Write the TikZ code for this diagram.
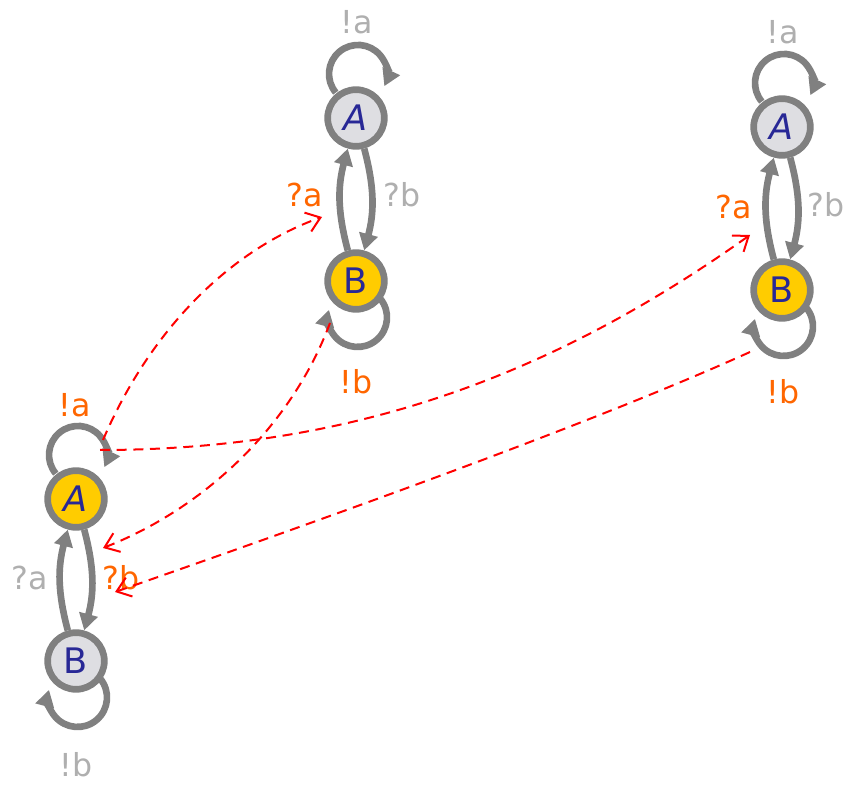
\documentclass[tikz,border=0pt]{standalone}
\usepackage{fontspec}
\setmainfont{DejaVu Sans}
\usetikzlibrary{arrows.meta,calc}

\definecolor{stategray}{RGB}{222,222,226}
\definecolor{stateyellow}{RGB}{255,204,0}
\definecolor{letterblue}{RGB}{40,40,150}
\definecolor{edgegray}{RGB}{128,128,128}
\definecolor{labelgray}{RGB}{175,175,175}
\definecolor{labelorange}{RGB}{255,102,0}

\begin{document}
\begin{tikzpicture}[x=0.3mm, y=-0.3mm,
  state/.style={circle, draw=edgegray, line width=2mm, minimum size=17mm,
    inner sep=0pt, text=letterblue, font=\fontsize{30}{32}\selectfont},
  idle/.style={state, fill=stategray},
  active/.style={state, fill=stateyellow},
  trans/.style={draw=edgegray, line width=2mm, -{Triangle[length=5mm,width=5.5mm]}},
  lbl/.style={text=labelgray, font=\fontsize{27}{29}\selectfont},
  hot/.style={text=labelorange, font=\fontsize{27}{29}\selectfont},
  sync/.style={red, line width=0.6mm, dash pattern=on 3mm off 2mm,
    -{Straight Barb[length=4mm,width=6mm]}}]

  \useasboundingbox (0,0) rectangle (846,785);

  % Middle machine
  \node[idle] (mA) at (356,118) {\itshape A};
  \node[active] (mB) at (356,281) {B};
  \draw[trans] ($(mA)+(-20.2,-25.4)$) arc[start angle=-220, end angle=25, radius=29];
  \draw[trans] (mB) to[bend left=15] (mA);
  \draw[trans] (mA) to[bend left=15] (mB);
  \draw[trans] ($(mB)+(24.1,17.5)$) arc[start angle=-40, end angle=195, radius=29.5];
  \node[lbl] (mla) at (357,22) {!a};
  \node[hot] (mqa) at (305,195) {?a};
  \node[lbl] (mqb) at (402,195) {?b};
  \node[hot] (mlb) at (356,382) {!b};

  % Right machine
  \node[idle] (rA) at (782,127) {\itshape A};
  \node[active] (rB) at (782,290) {B};
  \draw[trans] ($(rA)+(-20.2,-25.4)$) arc[start angle=-220, end angle=25, radius=29];
  \draw[trans] (rB) to[bend left=15] (rA);
  \draw[trans] (rA) to[bend left=15] (rB);
  \draw[trans] ($(rB)+(24.1,17.5)$) arc[start angle=-40, end angle=195, radius=29.5];
  \node[lbl] (rla) at (783,32) {!a};
  \node[hot] (rqa) at (734,207) {?a};
  \node[lbl] (rqb) at (826,205) {?b};
  \node[hot] (rlb) at (783,392) {!b};

  % Left machine
  \node[active] (lA) at (76,499) {\itshape A};
  \node[idle] (lB) at (76,661) {B};
  \draw[trans] ($(lA)+(-20.2,-25.4)$) arc[start angle=-220, end angle=25, radius=29];
  \draw[trans] (lB) to[bend left=15] (lA);
  \draw[trans] (lA) to[bend left=15] (lB);
  \draw[trans] ($(lB)+(24.1,17.5)$) arc[start angle=-40, end angle=195, radius=29.5];
  \node[hot] (lla) at (75,405) {!a};
  \node[lbl] (lqa) at (30,578) {?a};
  \node[hot] (lqb) at (121,578) {?b};
  \node[lbl] (llb) at (76,765) {!b};

  % Synchronisation links
  \coordinate (s1) at (103,440);
  \coordinate (e1) at (322,217);
  \coordinate (s2) at (100,450);
  \coordinate (e2) at (750,235);
  \coordinate (s3) at (330,323);
  \coordinate (e3) at (103,548);
  \coordinate (s4) at (750,352);
  \coordinate (e4) at (115,592);
  \draw[sync] (s1) .. controls (150,330) and (230,250) .. (e1);
  \draw[sync] (s2) .. controls (360,450) and (560,370) .. (e2);
  \draw[sync] (s3) .. controls (290,430) and (200,510) .. (e3);
  \draw[sync] (s4) .. controls (600,420) and (350,510) .. (e4);

\end{tikzpicture}
\end{document}
